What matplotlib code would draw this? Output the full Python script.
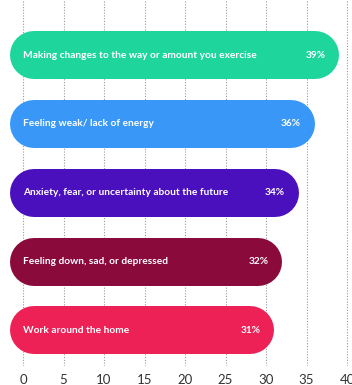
import numpy as np
from matplotlib import pyplot as plt

labels = [
    "Making changes to the way or amount you exercise",
    "Feeling weak/ lack of energy",
    "Anxiety, fear, or uncertainty about the future",
    "Feeling down, sad, or depressed",
    "Work around the home",
]
values = [39, 36, 34, 32, 31]
colors = ["#1ed69b", "#3997f7", "#4b10bd", "#8b0a3c", "#ee2157"]
ticks = [0, 5, 10, 15, 20, 25, 30, 35, 40]

plt.rcParams['font.family'] = ['Lato', 'DejaVu Sans']

fig = plt.figure(figsize=(3.52, 3.85), dpi=100)
ax = fig.add_axes([0, 0.049, 1, 0.951])
ax.set_xlim(-2.84, 40.6)
ax.set_ylim(4.52, -0.8)

# bar thickness in pixels -> points, round caps stick out by half of it
bar_px = 48
cap = (bar_px / 2) / (352 / (40.6 + 2.84))
start = -1.6 + cap

for x in ticks:
    ax.axvline(x, color="#9a9a9a", lw=0.8, ls=(0, (1, 1.5)), zorder=0)

for i, (lab, v, c) in enumerate(zip(labels, values, colors)):
    ax.plot([start, v - cap], [i, i], color=c, lw=bar_px * 0.72,
            solid_capstyle="round", zorder=2)
    ax.text(0, i, lab, color="white", fontsize=7.3, fontweight="bold",
            va="center", ha="left", zorder=3)
    ax.text(v - 1.7, i, f"{v}%", color="white", fontsize=7.3,
            fontweight="bold", va="center", ha="right", zorder=3)

ax.set_xticks(ticks)
ax.set_yticks([])
ax.tick_params(axis="x", length=0, pad=6, labelsize=9.5, colors="#333333")
for s in ax.spines.values():
    s.set_visible(False)

plt.savefig("out.png", dpi=100)
